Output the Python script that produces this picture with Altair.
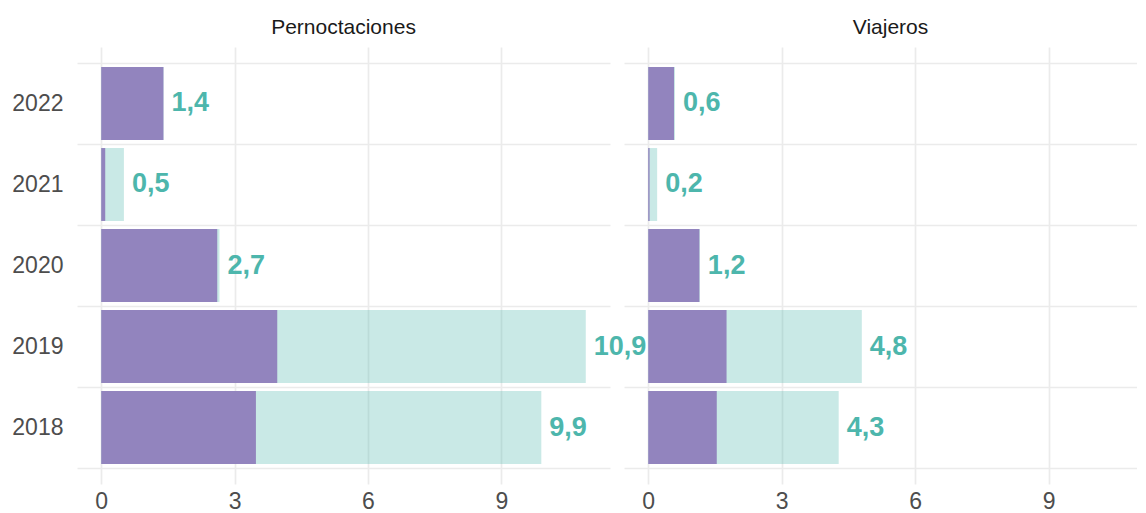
import altair as alt
import pandas as pd

years = ["2022", "2021", "2020", "2019", "2018"]
pern_total = [1.4, 0.51, 2.66, 10.9, 9.9]
pern_part = [1.4, 0.09, 2.61, 3.96, 3.48]
viaj_total = [0.6, 0.2, 1.16, 4.8, 4.28]
viaj_part = [0.58, 0.03, 1.15, 1.76, 1.54]
panels = ["Pernoctaciones", "Viajeros"]
x_ticks = [0, 3, 6, 9]

PURPLE = "#9284BE"
TEAL = "#4DB6AC"
GRID = "#EBEBEB"
LABEL = "#4D4D4D"
FONT = "Liberation Sans"
REF_W = 533


def frame(total, part):
    return pd.DataFrame({"year": years, "total": total, "part": part})


def panel(df, title, width, domain, show_labels):
    y = alt.Y(
        "year:N",
        sort=years,
        scale=alt.Scale(paddingInner=0, paddingOuter=0.1975),
        axis=alt.Axis(
            title=None, domain=False, ticks=False, labels=show_labels,
            labelFontSize=23, labelColor=LABEL, labelPadding=14, labelFont=FONT,
            grid=True, gridColor=GRID, gridWidth=1.7, tickBand="extent",
        ),
    )
    xscale = alt.Scale(domain=domain, nice=False, zero=False)
    xaxis = alt.Axis(
        values=x_ticks, title=None, domain=False, ticks=False,
        labelFontSize=23, labelColor=LABEL, labelPadding=6, labelFont=FONT,
        grid=True, gridColor=GRID, gridWidth=1.7,
    )
    base = alt.Chart(df)
    band = alt.RelativeBandSize(0.9)
    total_bar = base.mark_bar(color=TEAL, opacity=0.3, height=band).encode(
        x=alt.X("total:Q", scale=xscale, axis=xaxis, title=None),
        x2=alt.datum(0), y=y,
    )
    part_bar = base.mark_bar(color=PURPLE, height=band).encode(
        x=alt.X("part:Q", title=None), x2=alt.datum(0),
        y=alt.Y("year:N", sort=years, title=None),
    )
    text = base.transform_calculate(
        label="replace(format(datum.total, '.1f'), '.', ',')"
    ).mark_text(
        align="left", baseline="middle", dx=8, fontSize=27,
        fontWeight="bold", color=TEAL, font=FONT,
    ).encode(
        x=alt.X("total:Q", title=None),
        y=alt.Y("year:N", sort=years, title=None),
        text="label:N",
    )
    head = alt.Chart(pd.DataFrame({"t": [title]})).mark_text(
        align="center", baseline="alphabetic", fontSize=21, color="#1A1A1A",
        font=FONT,
    ).encode(text="t:N", x=alt.value(REF_W / 2), y=alt.value(-13))
    return alt.layer(total_bar, part_bar, text, head).properties(
        width=width, height=437
    )


left = panel(frame(pern_total, pern_part), panels[0], 533, [-0.545, 11.445], True)
right = panel(frame(viaj_total, viaj_part), panels[1], 513, [-0.545, 10.985], False)

chart = alt.hconcat(left, right, spacing=14, bounds="flush").resolve_scale(
    x="independent"
).properties(
    padding={"left": 3, "top": 9, "right": 0, "bottom": 0}
).configure(font=FONT).configure_view(stroke="transparent", strokeWidth=0)

chart.save("out.html", embed_options={"renderer": "svg", "actions": False})
